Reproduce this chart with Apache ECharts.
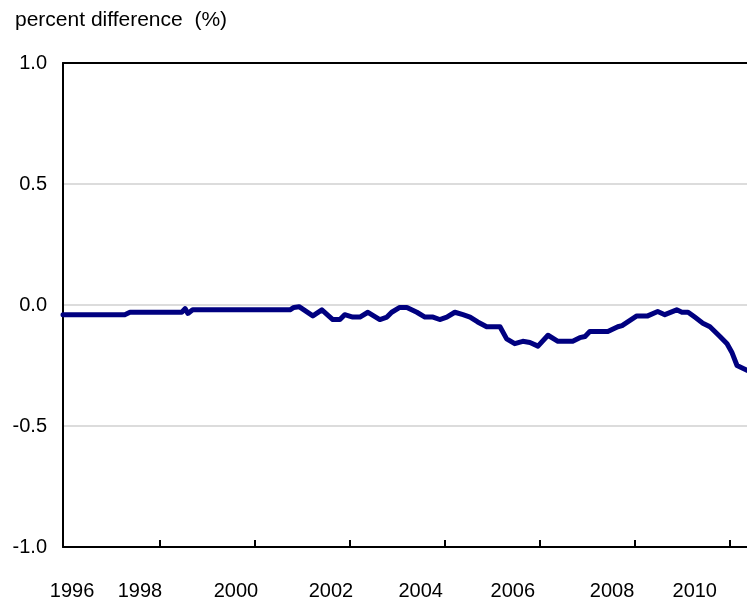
<!DOCTYPE html>
<html><head><meta charset="utf-8">
<script src="https://cdn.jsdelivr.net/npm/echarts@6/dist/echarts.min.js"></script>
<style>html,body{margin:0;padding:0;background:#fff}#c{width:747px;height:603px}</style>
</head><body><div id="c"></div>
<script>
// decimal years and percent difference values
const dates = [1995.96,1997.26,1997.37,1998.46,1998.53,1998.59,1998.69,2000.74,2000.82,2000.93,
  2001.22,2001.41,2001.64,2001.79,2001.89,2002.06,2002.21,2002.38,2002.63,2002.78,
  2002.88,2003.05,2003.20,2003.41,2003.58,2003.75,2003.89,2004.04,2004.21,2004.38,
  2004.53,2004.69,2004.88,2005.16,2005.30,2005.47,2005.64,2005.79,2005.96,2006.17,
  2006.38,2006.69,2006.84,2006.95,2007.05,2007.43,2007.64,2007.73,2008.04,2008.27,
  2008.48,2008.63,2008.88,2008.99,2009.12,2009.26,2009.43,2009.58,2009.79,2009.94,
  2010.04,2010.15,2010.36];
const values = [-0.04,-0.04,-0.03,-0.03,-0.015,-0.035,-0.02,-0.02,-0.01,-0.007,
  -0.045,-0.02,-0.06,-0.06,-0.04,-0.05,-0.05,-0.03,-0.06,-0.05,
  -0.03,-0.01,-0.01,-0.03,-0.05,-0.05,-0.06,-0.05,-0.03,-0.04,
  -0.05,-0.07,-0.09,-0.09,-0.14,-0.16,-0.15,-0.155,-0.17,-0.125,
  -0.15,-0.15,-0.135,-0.13,-0.11,-0.11,-0.09,-0.085,-0.045,-0.045,
  -0.027,-0.04,-0.02,-0.03,-0.03,-0.05,-0.075,-0.09,-0.13,-0.16,
  -0.195,-0.25,-0.27];
const tickYears = [1998,2000,2002,2004,2006,2008,2010];
const tickLabels = ['1996','1998','2000','2002','2004','2006','2008','2010'];
const labelAt = [1996.15,1997.58,1999.6,2001.6,2003.49,2005.43,2007.52,2009.26];
const yTitle = 'percent difference  (%)';

const font = "'Liberation Sans', Arial, sans-serif";
const chart = echarts.init(document.getElementById('c'), null, {renderer:'canvas'});
chart.setOption({
  animation:false,
  backgroundColor:'#fff',
  title:{text:yTitle, left:10, top:5, textStyle:{fontFamily:font, fontSize:21, fontWeight:'normal', color:'#000'}},
  grid:{left:63, right:0, top:63, bottom:56},
  xAxis:[{
    type:'value', min:1995.96, max:2010.36, position:'bottom',
    axisLine:{show:true, onZero:false, lineStyle:{color:'#000', width:2}},
    axisTick:{show:true, inside:true, length:7, customValues:tickYears, lineStyle:{color:'#000', width:2}},
    axisLabel:{show:true, customValues:labelAt, margin:34, fontFamily:font, fontSize:20, color:'#000',
      formatter:function(v){ const i = labelAt.findIndex(a=>Math.abs(a-v)<1e-6); return i>=0?tickLabels[i]:''; }},
    splitLine:{show:false}
  },{
    type:'value', min:1995.96, max:2010.36, position:'top',
    axisLine:{show:true, onZero:false, lineStyle:{color:'#000', width:2}},
    axisTick:{show:false}, axisLabel:{show:false}, splitLine:{show:false}
  }],
  yAxis:{
    type:'value', min:-1, max:1, interval:0.5,
    axisLine:{show:true, onZero:false, lineStyle:{color:'#000', width:2}},
    axisTick:{show:false},
    axisLabel:{margin:16, fontFamily:font, fontSize:20, color:'#000', formatter:v=>v.toFixed(1)},
    splitLine:{show:true, lineStyle:{color:'#dcdcdc', width:2}}
  },
  series:[{
    type:'line', xAxisIndex:0, data:dates.map((d,i)=>[d,values[i]]),
    showSymbol:false, symbol:'none', clip:true,
    lineStyle:{color:'#000080', width:5, join:'round', cap:'round'}
  }]
});
</script></body></html>
